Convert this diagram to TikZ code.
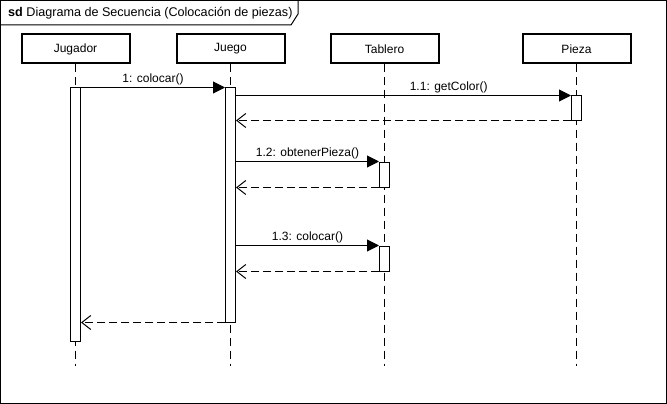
\documentclass[tikz,border=0pt]{standalone}
\usepackage{fontspec}
\setmainfont{Liberation Sans}
\usetikzlibrary{arrows.meta}
\begin{document}
\begin{tikzpicture}[x=1pt,y=-1pt,
  every node/.style={font=\fontsize{12}{14}\selectfont, inner sep=0pt},
  head/.style={draw, line width=2pt, minimum width=108pt, minimum height=29pt},
  act/.style={draw, fill=white, line width=1pt, minimum width=10pt},
  life/.style={line width=1pt, dash pattern=on 8pt off 5pt},
  msg/.style={line width=1pt, -{Triangle[length=12pt,width=12pt]}},
  ret/.style={line width=1pt, dash pattern=on 8pt off 4pt, -{Straight Barb[length=9pt,width=14pt,line width=1pt]}},
  lbl/.style={above=2pt}]
\useasboundingbox (0,0) rectangle (667,404);
% frame
\draw[line width=1pt] (0.5,0.5) rectangle (666,403);
\draw[line width=1pt] (0.5,25) -- (291,25) -- (298,14) -- (298,0.5);
\node[anchor=west, font=\fontsize{12.6}{14}\selectfont] (title) at (8,13) {\textbf{sd} Diagrama de Secuencia (Colocación de piezas)};
% heads
\node[head] (hJug) at (75.5,49) {Jugador};
\node[head] (hJue) at (230.5,49) {Juego};
\node[head] (hTab) at (384.5,49) {Tablero};
\node[head] (hPie) at (576.5,49) {Pieza};
% lifeline ends
\coordinate (eJug) at (75.5,366);
\coordinate (eJue) at (230.5,366);
\coordinate (eTab) at (384.5,366);
\coordinate (ePie) at (576.5,366);
\draw[life] (hJug.south) -- (eJug);
\draw[life] (hJue.south) -- (eJue);
\draw[life] (hTab.south) -- (eTab);
\draw[life] (hPie.south) -- (ePie);
% activations
\node[act, minimum height=253pt] (aJug) at (75.5,214.5) {};
\node[act, minimum height=234pt] (aJue) at (230.5,205) {};
\node[act, minimum height=24pt] (aPie) at (576.5,108) {};
\node[act, minimum height=25pt] (aTab1) at (384.5,174.5) {};
\node[act, minimum height=25pt] (aTab2) at (384.5,258.5) {};
% messages
\draw[msg] (aJug.north east) -- node[lbl] {1: colocar()} (aJue.north west);
\draw[msg] (aJue.east |- aPie.north) -- node[lbl, pos=0.635] {1.1: getColor()} (aPie.north west);
\draw[ret] (aPie.south west) -- (aJue.east |- aPie.south);
\draw[msg] (aJue.east |- aTab1.north) -- node[lbl] {1.2: obtenerPieza()} (aTab1.north west);
\draw[ret] (aTab1.south west) -- (aJue.east |- aTab1.south);
\draw[msg] (aJue.east |- aTab2.north) -- node[lbl] {1.3: colocar()} (aTab2.north west);
\draw[ret] (aTab2.south west) -- (aJue.east |- aTab2.south);
\draw[ret] (aJue.south west) -- (aJug.east |- aJue.south);
\end{tikzpicture}
\end{document}
